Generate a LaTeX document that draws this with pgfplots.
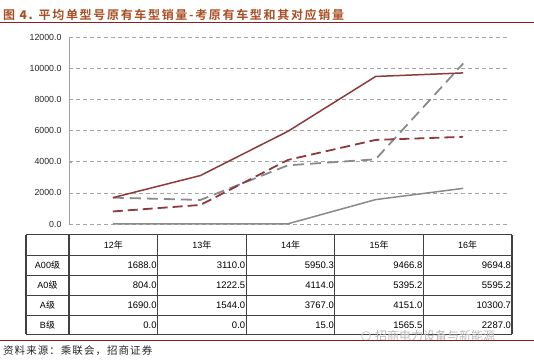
\documentclass[border=0pt]{standalone}
\usepackage{pgfplots}
\pgfplotsset{compat=1.18}
\usepackage{fontspec}
\setmainfont{Liberation Sans}
\newfontfamily\cjk{Noto Sans CJK SC}
\newfontfamily\cjkb[LetterSpace=14]{Noto Sans CJK SC Bold}
\newfontfamily\cjkfoot[LetterSpace=10]{Noto Sans CJK SC}
\definecolor{dred}{HTML}{8E3A3C}
\definecolor{lgray}{HTML}{8A8A8A}
\definecolor{titlec}{HTML}{A84E22}
\definecolor{rulec}{HTML}{8B1E1E}
\definecolor{tabline}{HTML}{404040}
\newcommand\zh[1]{{\cjk #1}}
\begin{document}
\begin{tikzpicture}[x=1pt,y=1pt]
\useasboundingbox (0,0) rectangle (534,361);
\begin{axis}[
  at={(69pt,137pt)}, anchor=south west,
  scale only axis, width=438pt, height=187pt,
  xmin=-0.5, xmax=4.5, ymin=0, ymax=12000,
  axis x line=none, axis y line*=left,
  y axis line style={draw=lgray!80, line width=0.8pt},
  ytick={0,2000,...,12000},
  ymajorgrids, grid style={draw=gray!70, dash pattern=on 4pt off 3pt, line width=0.6pt},
  major tick length=3pt, tick style={draw=lgray!80},
  yticklabel style={font=\fontsize{8.8}{10}\selectfont, text=black!85, xshift=-4pt},
  /pgf/number format/assume math mode=true,
  /pgf/number format/.cd, fixed, fixed zerofill, precision=1, 1000 sep={},
  /pgfplots/.cd,
  scaled y ticks=false,
  clip=false,
]
\addplot[lgray, line width=1.5pt] coordinates {(0,0)(1,0)(2,15)(3,1565.5)(4,2287)};
\addplot[lgray, line width=1.8pt, dash pattern=on 11pt off 6pt] coordinates {(0,1690)(1,1544)(2,3767)(3,4151)(4,10300.7)};
\addplot[dred, line width=1.8pt, dash pattern=on 10pt off 5pt] coordinates {(0,804)(1,1222.5)(2,4114)(3,5395.2)(4,5595.2)};
\addplot[dred, line width=1.5pt] coordinates {(0,1688)(1,3110)(2,5950.3)(3,9466.8)(4,9694.8)};
\end{axis}
% data table
\def\cw{88.6}
\foreach \yy in {106,86,66,46} \draw[tabline, line width=0.6pt] (26,\yy) -- (512,\yy);
\draw[tabline, line width=1pt] (26,126) -- (512,126);
\draw[tabline, line width=1pt] (26,27) -- (512,27);
\foreach \k in {0,...,5} \draw[tabline, line width=1.2pt] ({69+\k*\cw},126) -- ({69+\k*\cw},27);
\draw[tabline, line width=1.2pt] (26,126) -- (26,27);
\foreach \lab [count=\i from 0] in {12,13,14,15,16}
  \node[font=\fontsize{9}{10}\selectfont] at ({69+(\i+0.5)*\cw},116) {\lab\zh{年}};
\foreach \lab [count=\j from 0] in {A00,A0,A,B}
  \node[font=\fontsize{9}{10}\selectfont] at (47.5,{96-\j*20}) {\lab\zh{级}};
\def\rowvals#1#2{\foreach \v [count=\i from 1] in {#2}
  \node[font=\fontsize{9.5}{10}\selectfont, anchor=east, inner sep=0pt] at ({69+\i*\cw-0.8},#1) {\v};}
\rowvals{96}{1688.0,3110.0,5950.3,9466.8,9694.8}
\rowvals{76}{804.0,1222.5,4114.0,5395.2,5595.2}
\rowvals{56}{1690.0,1544.0,3767.0,4151.0,10300.7}
\rowvals{36}{0.0,0.0,15.0,1565.5,2287.0}
% watermark
\node[font=\cjk\fontsize{12}{13}\selectfont, text=gray!55, anchor=west, inner sep=0pt] at (375,25) {招商电力设备与新能源};
\draw[gray!40, line width=0.8pt] (366,25) circle (4.5);
% title
\node[anchor=west, inner sep=0pt, text=titlec, font=\cjkb\fontsize{12}{13}\selectfont] at (3,346) {图 {\bfseries 4.} 平均单型号原有车型销量-考原有车型和其对应销量};
\draw[rulec, line width=1pt] (0,338) -- (534,338);
% footnote
\draw[rulec, line width=0.8pt] (0,21) -- (534,21);
\node[anchor=west, inner sep=0pt, text=black!85, font=\cjkfoot\fontsize{10.5}{11}\selectfont] at (3,10) {资料来源：乘联会，招商证券};
\end{tikzpicture}
\end{document}
